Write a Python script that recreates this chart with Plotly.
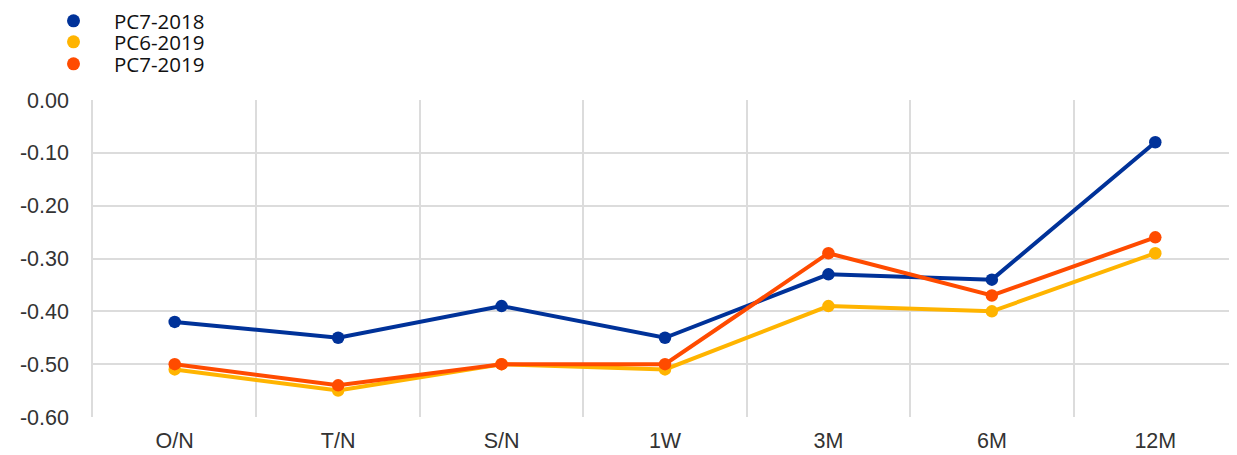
import plotly.graph_objects as go

categories = ["O/N", "T/N", "S/N", "1W", "3M", "6M", "12M"]
pc7_2018 = [-0.42, -0.45, -0.39, -0.45, -0.33, -0.34, -0.08]
pc6_2019 = [-0.51, -0.55, -0.50, -0.51, -0.39, -0.40, -0.29]
pc7_2019 = [-0.50, -0.54, -0.50, -0.50, -0.29, -0.37, -0.26]
y_ticks = [0.0, -0.1, -0.2, -0.3, -0.4, -0.5, -0.6]
y_tick_labels = ["0.00", "-0.10", "-0.20", "-0.30", "-0.40", "-0.50", "-0.60"]

series = [
    ("PC7-2018", pc7_2018, "#003299"),
    ("PC6-2019", pc6_2019, "#FFB400"),
    ("PC7-2019", pc7_2019, "#FF4B00"),
]
legend_ids = ["legend", "legend2", "legend3"]

# page body has an 8px margin, so the figure is sized to fit the window
W, H, OFF = 1229, 447, 8

fig = go.Figure()
for name, vals, color in series:
    fig.add_trace(go.Scatter(
        x=categories, y=vals, mode="lines+markers", name=name,
        line=dict(color=color, width=4),
        marker=dict(color=color, size=12.5),
        showlegend=False,
    ))
for (name, vals, color), lid in zip(series, legend_ids):
    fig.add_trace(go.Scatter(
        x=[None], y=[None], mode="markers", name=name,
        marker=dict(color=color, size=13),
        showlegend=True, legend=lid,
    ))

legend_font = dict(family="Open Sans, Lato, sans-serif", size=20.5, color="#111")
row_y = [21, 42, 64]
for lid, ry in zip(legend_ids, row_y):
    fig.update_layout({lid: dict(
        x=(33 - OFF) / W, y=1 - (ry - OFF) / H, xref="container", yref="container",
        xanchor="left", yanchor="middle",
        font=legend_font, itemwidth=71,
        bgcolor="rgba(0,0,0,0)", borderwidth=0,
    )})

tick_font = dict(family="Liberation Sans, Arial, sans-serif", size=21.5, color="#333")
fig.update_layout(
    width=W, height=H,
    margin=dict(l=93 - OFF, r=0, t=100 - OFF, b=H - (417 - OFF), autoexpand=False),
    plot_bgcolor="white", paper_bgcolor="white",
    showlegend=True,
    xaxis=dict(
        type="category", tickson="boundaries", showgrid=True,
        gridcolor="#dcdcdc", gridwidth=1.5, ticks="",
        tickfont=tick_font, ticklabelstandoff=8,
        showline=False, range=[-0.5, 6.5],
    ),
    yaxis=dict(
        range=[-0.6, 0.0], tickvals=y_ticks, ticktext=y_tick_labels,
        showgrid=True, gridcolor="#dcdcdc", gridwidth=1.5,
        zeroline=False, ticks="", ticklabelstandoff=18,
        tickfont=tick_font,
        showline=True, linecolor="#dcdcdc", linewidth=1.5, mirror=False,
    ),
)

fig.write_html("out.html")
